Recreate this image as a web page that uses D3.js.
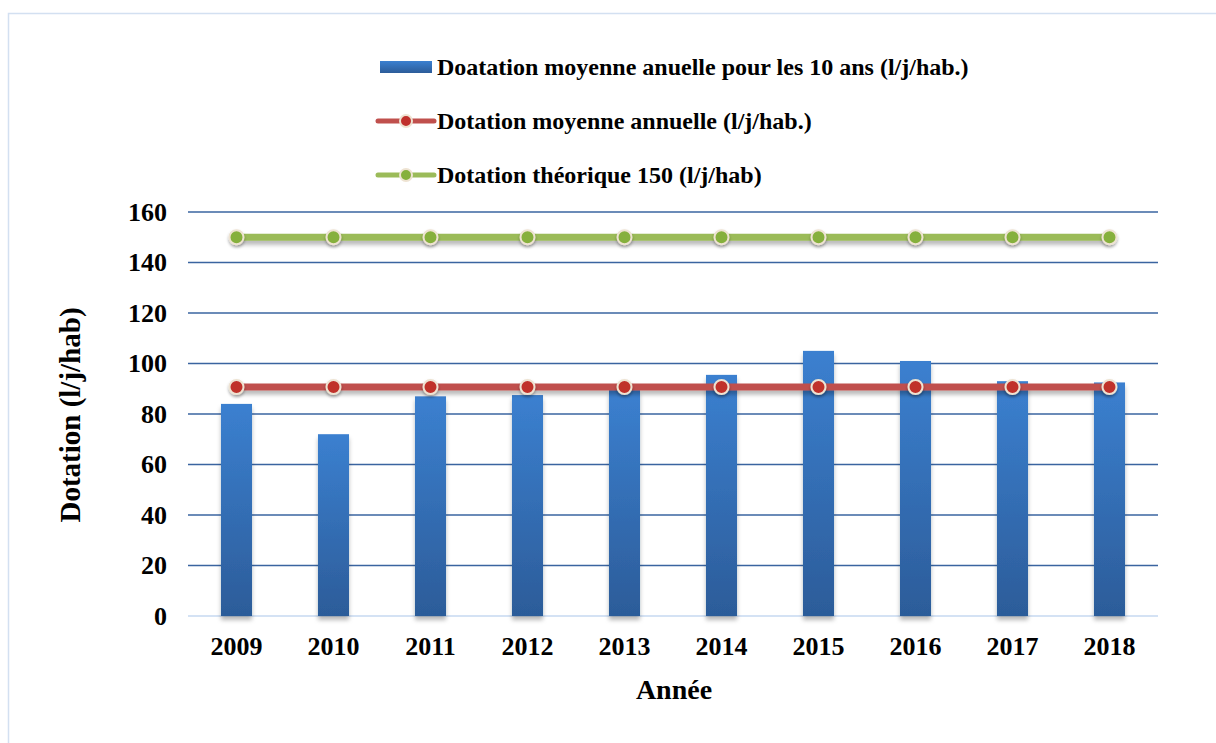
<!DOCTYPE html>
<html>
<head>
<meta charset="utf-8">
<script src="https://cdn.jsdelivr.net/npm/d3@7"></script>
<style>
  body { margin: 0; background: #fff; }
</style>
</head>
<body>
<script>
const years = ["2009", "2010", "2011", "2012", "2013", "2014", "2015", "2016", "2017", "2018"];
const dotationAnnuelle = [84, 72, 87, 87.5, 89.5, 95.5, 105, 101, 93, 92.5];
const dotationMoyenne = [90.7, 90.7, 90.7, 90.7, 90.7, 90.7, 90.7, 90.7, 90.7, 90.7];
const dotationTheorique = [150, 150, 150, 150, 150, 150, 150, 150, 150, 150];
const yTicks = [0, 20, 40, 60, 80, 100, 120, 140, 160];
const legendLabels = [
    "Doatation moyenne anuelle pour les 10 ans (l/j/hab.)",
    "Dotation moyenne annuelle (l/j/hab.)",
    "Dotation théorique 150 (l/j/hab)"
];

const FONT = "'Liberation Serif', 'Times New Roman', serif";
const W = 1216, H = 743;
const margin = { top: 212, right: 58, bottom: 127, left: 188 },
    width = W - margin.left - margin.right,
    height = H - margin.top - margin.bottom;

const svg = d3.select("body").append("svg")
    .attr("width", W)
    .attr("height", H)
    .style("font-family", FONT)
    .style("font-weight", "bold");

const defs = svg.append("defs");
const grad = defs.append("linearGradient")
    .attr("id", "barGrad")
    .attr("x1", 0).attr("y1", 0).attr("x2", 0).attr("y2", 1);
grad.append("stop").attr("offset", "0%").attr("stop-color", "#3b80d0");
grad.append("stop").attr("offset", "100%").attr("stop-color", "#2c5c99");

const shadow = defs.append("filter").attr("id", "shadow")
    .attr("filterUnits", "userSpaceOnUse")
    .attr("x", -50).attr("y", -50).attr("width", W + 100).attr("height", H + 100);
shadow.append("feDropShadow")
    .attr("dx", 0).attr("dy", 4).attr("stdDeviation", 2)
    .attr("flood-color", "#000").attr("flood-opacity", 0.28);

const glow = defs.append("filter").attr("id", "glow")
    .attr("filterUnits", "userSpaceOnUse")
    .attr("x", -50).attr("y", -50).attr("width", W + 100).attr("height", H + 100);
glow.append("feDropShadow")
    .attr("dx", 0).attr("dy", 2).attr("stdDeviation", 1.5)
    .attr("flood-color", "#000").attr("flood-opacity", 0.35);

// frame
svg.append("rect")
    .attr("x", 8.5).attr("y", 13.5)
    .attr("width", W + 10).attr("height", H + 10)
    .attr("fill", "none")
    .attr("stroke", "#d3e0f1")
    .attr("stroke-width", 1.5);

const x = d3.scaleBand()
    .domain(years)
    .range([0, width])
    .paddingInner(0.68)
    .paddingOuter(0.34);

const y = d3.scaleLinear()
    .domain([0, 160])
    .range([height, 0]);

const g = svg.append("g")
    .attr("transform", "translate(" + margin.left + "," + margin.top + ")");

// gridlines
g.append("g")
    .selectAll("line")
    .data(yTicks)
    .enter().append("line")
    .attr("x1", 0)
    .attr("x2", width)
    .attr("y1", d => y(d))
    .attr("y2", d => y(d))
    .attr("stroke", d => d === 0 ? "#c6d9f0" : "#3a64a0")
    .attr("stroke-width", 1.6);

// y axis labels
const yAxis = g.append("g")
    .call(d3.axisLeft(y).tickValues(yTicks).tickSize(0).tickPadding(21));
yAxis.select(".domain").remove();
yAxis.attr("font-family", FONT);
yAxis.selectAll("text")
    .attr("font-size", 26)
    .attr("font-weight", "bold")
    .attr("fill", "#000");

// x axis labels
const xAxis = g.append("g")
    .attr("transform", "translate(0," + height + ")")
    .call(d3.axisBottom(x).tickSize(0).tickPadding(21));
xAxis.select(".domain").remove();
xAxis.attr("font-family", FONT);
xAxis.selectAll("text")
    .attr("font-size", 26)
    .attr("font-weight", "bold")
    .attr("fill", "#000");

// bars
g.append("g")
    .selectAll("rect")
    .data(dotationAnnuelle)
    .enter().append("rect")
    .attr("x", (d, i) => x(years[i]))
    .attr("y", d => y(d))
    .attr("width", x.bandwidth())
    .attr("height", d => height - y(d))
    .attr("fill", "url(#barGrad)")
    .attr("filter", "url(#shadow)");

function drawLine(values, lineColor, dotColor) {
    const line = d3.line()
        .x((d, i) => x(years[i]) + x.bandwidth() / 2)
        .y(d => y(d));
    g.append("path")
        .datum(values)
        .attr("d", line)
        .attr("fill", "none")
        .attr("stroke", lineColor)
        .attr("stroke-width", 7)
        .attr("filter", "url(#shadow)");
    g.append("g")
        .selectAll("circle")
        .data(values)
        .enter().append("circle")
        .attr("cx", (d, i) => x(years[i]) + x.bandwidth() / 2)
        .attr("cy", d => y(d))
        .attr("r", 7)
        .attr("fill", dotColor)
        .attr("stroke", "#eee3d2")
        .attr("stroke-width", 2)
        .attr("filter", "url(#glow)");
}

drawLine(dotationTheorique, "#9bbb59", "#86b03c");
drawLine(dotationMoyenne, "#c0504d", "#c0302c");

// axis titles
svg.append("text")
    .attr("transform", "translate(80," + (margin.top + height / 2 + 1) + ") rotate(-90)")
    .attr("text-anchor", "middle")
    .attr("font-family", FONT)
    .attr("font-weight", "bold")
    .attr("font-size", 29)
    .text("Dotation (l/j/hab)");

svg.append("text")
    .attr("x", 674)
    .attr("y", 699)
    .attr("text-anchor", "middle")
    .attr("font-family", FONT)
    .attr("font-weight", "bold")
    .attr("font-size", 28)
    .text("Année");

// legend
const legend = svg.append("g");
const legendY = [67, 121, 175];

legend.append("rect")
    .attr("x", 380).attr("y", legendY[0] - 6)
    .attr("width", 52).attr("height", 12)
    .attr("fill", "url(#barGrad)");

[["#c0504d", "#c0302c"], ["#9bbb59", "#86b03c"]].forEach((c, i) => {
    const ly = legendY[i + 1];
    legend.append("line")
        .attr("x1", 378).attr("x2", 434)
        .attr("y1", ly).attr("y2", ly)
        .attr("stroke", c[0])
        .attr("stroke-width", 5)
        .attr("stroke-linecap", "round");
    legend.append("circle")
        .attr("cx", 406).attr("cy", ly)
        .attr("r", 6)
        .attr("fill", c[1])
        .attr("stroke", "#eee3d2")
        .attr("stroke-width", 2);
});

legend.selectAll("text")
    .data(legendLabels)
    .enter().append("text")
    .attr("x", 437)
    .attr("y", (d, i) => legendY[i])
    .attr("dy", "0.35em")
    .attr("font-family", FONT)
    .attr("font-weight", "bold")
    .attr("font-size", 24)
    .text(d => d);
</script>
</body>
</html>
